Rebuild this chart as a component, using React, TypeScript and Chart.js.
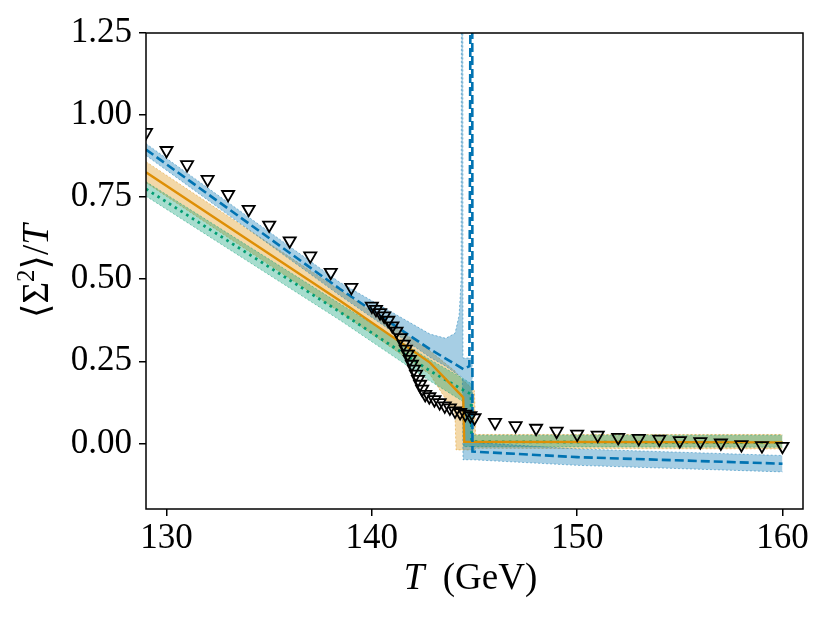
import { useEffect, useRef } from "react"
import { Chart, registerables } from "chart.js"

Chart.register(...registerables)

// axis ticks
const xTicks = [130, 140, 150, 160]
const yTicks = [0, 0.25, 0.5, 0.75, 1.0, 1.25]

// lattice points (open triangles)
const latT = [
  129, 130, 131, 132, 133, 134, 135, 136, 137, 138, 139,
  140, 140.2, 140.4, 140.6, 140.8, 141, 141.2, 141.4, 141.55, 141.65, 141.75, 141.85, 141.95,
  142.05, 142.15, 142.25, 142.35, 142.45, 142.6, 142.8, 143.05, 143.3, 143.55, 143.8,
  144.05, 144.3, 144.55, 144.8, 145,
  146, 147, 148, 149, 150, 151, 152, 153, 154, 155, 156, 157, 158, 159, 160,
]
const latY = [
  0.947, 0.892, 0.849, 0.804, 0.758, 0.713, 0.665, 0.617, 0.571, 0.521, 0.475,
  0.418, 0.408, 0.398, 0.388, 0.375, 0.358, 0.342, 0.322, 0.302, 0.287, 0.272, 0.256, 0.241,
  0.226, 0.211, 0.195, 0.18, 0.165, 0.149, 0.142, 0.133, 0.124, 0.114, 0.108,
  0.099, 0.094, 0.089, 0.084, 0.078,
  0.064, 0.054, 0.046, 0.037, 0.028, 0.025, 0.018, 0.015, 0.013, 0.008, 0.005, 0.001, -0.004, -0.007, -0.009,
]

// blue (dashed) curve and band
const blueT = [129, 138.45, 142.83, 144.46, 144.75, 144.88, 144.9, 150, 160]
const blueMean = [0.895, 0.47, 0.287, 0.226, 0.235, 3, -0.025, -0.042, -0.062]
const blueBandT = [129, 138.45, 142.83, 143.6, 144.05, 144.25, 144.35, 144.41, 144.44, 144.88, 144.92, 150, 160]
const blueUpper = [0.913, 0.49, 0.333, 0.32, 0.335, 0.39, 0.5, 4, 0.26, 0.26, 0.003, -0.017, -0.037]
const blueLower = [0.877, 0.45, 0.262, 0.235, 0.215, 0.207, 0.203, 0.2, -0.05, -0.05, -0.05, -0.067, -0.087]

// orange (solid) curve and band
const orangeT = [129, 138.45, 142.83, 144.3, 144.45, 144.5, 160]
const orangeMean = [0.826, 0.434, 0.246, 0.15, 0.14, 0.005, 0.003]
const orangeBandT = [129, 138.45, 142.83, 144.05, 144.1, 144.5, 145, 145.05, 160]
const orangeUpper = [0.858, 0.466, 0.282, 0.22, 0.215, 0.19, 0.16, 0.027, 0.027]
const orangeLower = [0.794, 0.4, 0.21, 0.09, -0.02, -0.02, -0.02, -0.015, -0.017]

// green (dotted) curve and band
const greenT = [129, 138.45, 142.83, 144.38, 144.83, 144.86, 160]
const greenMean = [0.775, 0.4, 0.221, 0.165, 0.15, 0.005, 0.002]
const greenBandT = [129, 138.45, 142.83, 144.38, 144.44, 144.48, 144.88, 144.92, 160]
const greenUpper = [0.797, 0.425, 0.255, 0.2, 0.198, 0.196, 0.18, 0.025, 0.025]
const greenLower = [0.753, 0.375, 0.19, 0.13, 0.125, -0.01, -0.01, -0.01, -0.012]

const BLUE = "#0173b2"
const ORANGE = "#de8f05"
const GREEN = "#029e73"
const FONT = "'Liberation Serif', 'DejaVu Serif', serif"

const pts = (xs: number[], ys: number[]) => xs.map((x, i) => ({ x, y: ys[i] }))

function rgba(hex: string, a: number) {
  const n = parseInt(hex.slice(1), 16)
  return `rgba(${(n >> 16) & 255}, ${(n >> 8) & 255}, ${n & 255}, ${a})`
}

function band(xs: number[], hi: number[], lo: number[], color: string) {
  const edge = {
    borderColor: rgba(color, 0.45),
    borderWidth: 1,
    borderDash: [2, 2],
    pointRadius: 0,
    tension: 0,
  }
  return [
    { ...edge, data: pts(xs, hi), fill: "+1", backgroundColor: rgba(color, 0.35) },
    { ...edge, data: pts(xs, lo), fill: false },
  ]
}

// frame box and the mixed-font axis titles
const framePlugin = {
  id: "frameAndTitles",
  afterDraw(chart: Chart) {
    const { ctx, chartArea: a } = chart
    ctx.save()
    ctx.strokeStyle = "#000"
    ctx.lineWidth = 1.5
    ctx.strokeRect(a.left, a.top, a.right - a.left, a.bottom - a.top)

    ctx.fillStyle = "#000"
    ctx.textBaseline = "alphabetic"
    const reg = `37px ${FONT}`
    const ita = `italic 37px ${FONT}`
    const sup = `25px ${FONT}`

    // x title: T (GeV)
    const xParts: [string, string, number][] = [
      ["T", ita, 0],
      ["  (GeV)", reg, 0],
    ]
    drawParts(ctx, xParts, (a.left + a.right) / 2 - 4, 589)

    // y title: <Sigma^2>/T, rotated
    ctx.translate(48, (a.top + a.bottom) / 2)
    ctx.rotate(-Math.PI / 2)
    const yParts: [string, string, number][] = [
      ["\u27e8\u03a3", reg, 0],
      ["2", sup, -14],
      ["\u27e9/", reg, 0],
      ["T", ita, 0],
    ]
    drawParts(ctx, yParts, 0, 0)
    ctx.restore()
  },
}

function drawParts(ctx: CanvasRenderingContext2D, parts: [string, string, number][], cx: number, y: number) {
  let total = 0
  for (const [t, f] of parts) {
    ctx.font = f
    total += ctx.measureText(t).width
  }
  let x = cx - total / 2
  for (const [t, f, dy] of parts) {
    ctx.font = f
    ctx.fillText(t, x, y + dy)
    x += ctx.measureText(t).width
  }
}

export default function App() {
  const canvasRef = useRef<HTMLCanvasElement>(null)
  const chartRef = useRef<Chart | null>(null)

  useEffect(() => {
    document.body.style.margin = "0"
    if (!canvasRef.current) return
    if (chartRef.current) chartRef.current.destroy()

    const tickFont = { family: FONT, size: 35 }

    chartRef.current = new Chart(canvasRef.current, {
      type: "line",
      data: {
        datasets: [
          {
            data: pts(latT, latY),
            showLine: false,
            pointStyle: "triangle",
            rotation: 180,
            pointRadius: 7,
            pointBorderWidth: 1.8,
            pointBorderColor: "#000",
            pointBackgroundColor: "rgba(0,0,0,0)",
          },
          {
            data: pts(blueT, blueMean),
            borderColor: BLUE,
            borderWidth: 2.6,
            borderDash: [9, 4],
            pointRadius: 0,
          },
          {
            data: pts(orangeT, orangeMean),
            borderColor: ORANGE,
            borderWidth: 2.4,
            pointRadius: 0,
          },
          {
            data: pts(greenT, greenMean),
            borderColor: GREEN,
            borderWidth: 2.8,
            borderDash: [2.6, 4.2],
            pointRadius: 0,
          },
          ...band(blueBandT, blueUpper, blueLower, BLUE),
          ...band(greenBandT, greenUpper, greenLower, GREEN),
          ...band(orangeBandT, orangeUpper, orangeLower, ORANGE),
        ] as any,
      },
      options: {
        responsive: false,
        animation: false,
        layout: { padding: { top: 33, right: 27, left: 0, bottom: 0 } },
        plugins: { legend: { display: false }, tooltip: { enabled: false } },
        elements: { line: { tension: 0 } },
        scales: {
          x: {
            type: "linear",
            min: 129,
            max: 161,
            border: { display: false },
            grid: { drawOnChartArea: false, drawTicks: true, tickLength: 7, color: "#000", lineWidth: 1.5 },
            ticks: { font: tickFont, color: "#000", padding: 2, maxRotation: 0 },
            afterBuildTicks: (scale: any) => {
              scale.ticks = xTicks.map((v) => ({ value: v }))
            },
            afterFit: (scale: any) => {
              scale.height = 114
            },
          },
          y: {
            type: "linear",
            min: -0.2,
            max: 1.25,
            border: { display: false },
            grid: { drawOnChartArea: false, drawTicks: true, tickLength: 7, color: "#000", lineWidth: 1.5 },
            ticks: {
              font: tickFont,
              color: "#000",
              padding: 7,
              callback: (v: any) => Number(v).toFixed(2),
            },
            afterBuildTicks: (scale: any) => {
              scale.ticks = yTicks.map((v) => ({ value: v }))
            },
            afterFit: (scale: any) => {
              scale.width = 146
            },
          },
        },
      },
      plugins: [framePlugin],
    })

    return () => {
      chartRef.current?.destroy()
      chartRef.current = null
    }
  }, [])

  return (
    <div style={{ width: 830, height: 623, background: "#fff" }}>
      <canvas ref={canvasRef} width={830} height={623}></canvas>
    </div>
  )
}
